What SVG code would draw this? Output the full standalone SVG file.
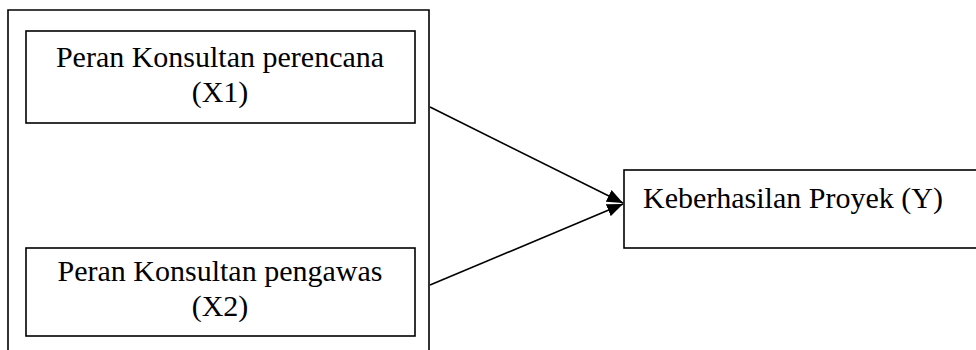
<svg xmlns="http://www.w3.org/2000/svg" width="976" height="350" viewBox="0 0 976 350">
<style>
.box{fill:#fff;stroke:#000;stroke-width:1.6}
.t{font-family:"Liberation Serif","Times New Roman",serif;font-size:30px;fill:#000}
.c{stroke:#000;stroke-width:1.6;fill:none}
</style>
<defs>
<marker id="ah" viewBox="0 0 16 14" refX="16" refY="7" markerWidth="16" markerHeight="14" markerUnits="userSpaceOnUse" orient="auto">
<path d="M0,0.5 L16,7 L0,13.5 z" fill="#000"/>
</marker>
</defs>
<g id="outer"><path class="box" d="M8,360 L8,10 L429,10 L429,360"/></g>
<g id="x1">
<rect class="box" x="26" y="31" width="389" height="92"/>
<text class="t" x="220" y="67" text-anchor="middle">Peran Konsultan perencana</text>
<text class="t" x="220" y="102" text-anchor="middle">(X1)</text>
</g>
<g id="x2">
<rect class="box" x="26" y="248" width="389" height="88"/>
<text class="t" x="220" y="281" text-anchor="middle">Peran Konsultan pengawas</text>
<text class="t" x="220" y="316" text-anchor="middle">(X2)</text>
</g>
<g id="y">
<rect class="box" x="624" y="170" width="360" height="78"/>
<text class="t" x="643" y="208">Keberhasilan Proyek (Y)</text>
</g>
<g id="connectors">
<line class="c" x1="430" y1="107" x2="623" y2="203" marker-end="url(#ah)"/>
<line class="c" x1="430" y1="285" x2="623" y2="204" marker-end="url(#ah)"/>
</g>
</svg>
